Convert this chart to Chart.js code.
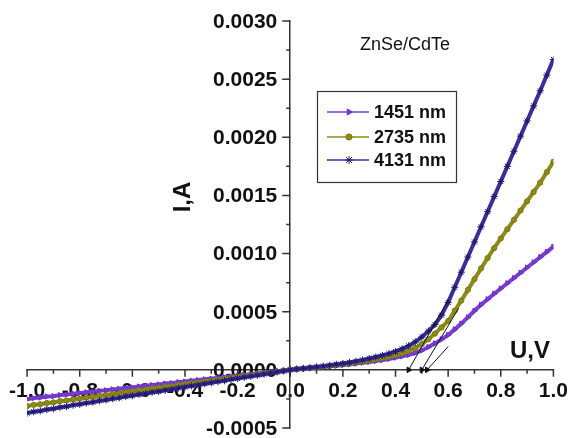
<!DOCTYPE html>
<html>
<head>
<meta charset="utf-8">
<script src="https://cdn.jsdelivr.net/npm/chart.js@4"></script>
<style>
  html, body { margin: 0; padding: 0; background: #fff; }
  #wrap { width: 577px; height: 438px; }
</style>
</head>
<body>
<div id="wrap"><canvas id="ivChart" width="577" height="438"></canvas></div>
<script>
// voltage, V
const voltage = [
  -1.000, -0.975, -0.950, -0.925, -0.900, -0.875, -0.850, -0.825, -0.800, -0.775,
  -0.750, -0.725, -0.700, -0.675, -0.650, -0.625, -0.600, -0.575, -0.550, -0.525,
  -0.500, -0.475, -0.450, -0.425, -0.400, -0.375, -0.350, -0.325, -0.300, -0.275,
  -0.250, -0.225, -0.200, -0.175, -0.150, -0.125, -0.100, -0.075, -0.050, -0.025,
   0.000,  0.025,  0.050,  0.075,  0.100,  0.125,  0.150,  0.175,  0.200,  0.225,
   0.250,  0.275,  0.300,  0.325,  0.350,  0.375,  0.400,  0.425,  0.450,  0.475,
   0.500,  0.525,  0.550,  0.575,  0.600,  0.625,  0.650,  0.675,  0.700,  0.725,
   0.750,  0.775,  0.800,  0.825,  0.850,  0.875,  0.900,  0.925,  0.950,  0.975,
   1.000
];

// current, A
const current1451 = [
  -0.000252, -0.000243, -0.000238, -0.000229, -0.000226, -0.000217, -0.000213, -0.000205, -0.000200, -0.000193,
  -0.000188, -0.000180, -0.000176, -0.000168, -0.000163, -0.000156, -0.000151, -0.000143, -0.000138, -0.000131,
  -0.000126, -0.000118, -0.000113, -0.000106, -0.000101, -0.000093, -0.000088, -0.000081, -0.000076, -0.000068,
  -0.000063, -0.000056, -0.000051, -0.000043, -0.000038, -0.000031, -0.000025, -0.000018, -0.000012, -0.000006,
   0.000000,  0.000005,  0.000010,  0.000015,  0.000020,  0.000025,  0.000030,  0.000035,  0.000041,  0.000047,
   0.000054,  0.000061,  0.000068,  0.000076,  0.000084,  0.000094,  0.000105,  0.000116,  0.000129,  0.000146,
   0.000167,  0.000196,  0.000228,  0.000262,  0.000300,  0.000348,  0.000398,  0.000452,  0.000508,  0.000560,
   0.000608,  0.000655,  0.000700,  0.000745,  0.000790,  0.000835,  0.000880,  0.000925,  0.000970,  0.001015,
   0.001060
];
const current2735 = [
  -0.000312, -0.000301, -0.000296, -0.000285, -0.000280, -0.000269, -0.000264, -0.000254, -0.000248, -0.000238,
  -0.000233, -0.000223, -0.000217, -0.000207, -0.000202, -0.000192, -0.000186, -0.000177, -0.000171, -0.000161,
  -0.000155, -0.000146, -0.000140, -0.000131, -0.000124, -0.000115, -0.000109, -0.000100, -0.000093, -0.000084,
  -0.000078, -0.000069, -0.000062, -0.000054, -0.000047, -0.000039, -0.000031, -0.000023, -0.000015, -0.000008,
   0.000000,  0.000006,  0.000011,  0.000017,  0.000022,  0.000028,  0.000034,  0.000041,  0.000048,  0.000055,
   0.000063,  0.000071,  0.000080,  0.000090,  0.000101,  0.000113,  0.000127,  0.000143,  0.000163,  0.000189,
   0.000222,  0.000263,  0.000312,  0.000365,  0.000420,  0.000508,  0.000596,  0.000688,  0.000780,  0.000872,
   0.000962,  0.001048,  0.001130,  0.001210,  0.001290,  0.001370,  0.001450,  0.001530,  0.001610,  0.001700,
   0.001790
];
const current4131 = [
  -0.000372, -0.000360, -0.000353, -0.000341, -0.000334, -0.000322, -0.000315, -0.000303, -0.000296, -0.000285,
  -0.000278, -0.000266, -0.000259, -0.000248, -0.000241, -0.000229, -0.000222, -0.000211, -0.000204, -0.000193,
  -0.000186, -0.000175, -0.000167, -0.000156, -0.000148, -0.000138, -0.000130, -0.000119, -0.000111, -0.000101,
  -0.000093, -0.000082, -0.000074, -0.000064, -0.000056, -0.000046, -0.000037, -0.000027, -0.000018, -0.000009,
   0.000000,  0.000007,  0.000013,  0.000019,  0.000025,  0.000032,  0.000039,  0.000047,  0.000055,  0.000064,
   0.000074,  0.000085,  0.000097,  0.000110,  0.000124,  0.000140,  0.000158,  0.000180,  0.000207,  0.000240,
   0.000282,  0.000333,  0.000390,  0.000470,  0.000580,  0.000710,  0.000840,  0.000970,  0.001100,  0.001230,
   0.001360,  0.001490,  0.001620,  0.001750,  0.001880,  0.002010,  0.002140,  0.002270,  0.002400,  0.002535,
   0.002670
];

const seriesNames = ['1451 nm', '2735 nm', '4131 nm'];

// short linear-fit lines with arrow at the foot on the U axis
const fitVoltage = [[0.45, 0.60], [0.50, 0.64], [0.52, 0.60]];
const fitCurrent = [[0, 0.00060], [0, 0.00053], [0, 0.00020]];

const xTicks = [-1.0, -0.8, -0.6, -0.4, -0.2, 0.0, 0.2, 0.4, 0.6, 0.8, 1.0];
const yTicks = [-0.0005, 0.0, 0.0005, 0.0010, 0.0015, 0.0020, 0.0025, 0.0030];

const colors = ['#7b3fd6', '#8c8c14', '#3a2e9e'];
const markerEdge = ['#6a2ec8', '#7a7a08', '#1f1870'];
const markers = [
  { pointStyle: 'triangle', rotation: 90, radius: 3 },
  { pointStyle: 'circle', rotation: 0, radius: 2.6 },
  { pointStyle: 'star', rotation: 0, radius: 3.6 }
];
const fontFamily = '"Liberation Sans", Arial, sans-serif';
const axisColor = '#333';

function toPoints(xs, ys) {
  return xs.map((v, i) => ({ x: v, y: ys[i] }));
}

const curves = [current1451, current2735, current4131].map((ys, i) => ({
  label: seriesNames[i],
  data: toPoints(voltage, ys),
  showLine: true,
  borderColor: colors[i],
  backgroundColor: colors[i],
  borderWidth: 4,
  pointStyle: markers[i].pointStyle,
  rotation: markers[i].rotation,
  pointRadius: markers[i].radius,
  pointBorderColor: markerEdge[i],
  pointBorderWidth: 1,
  order: 2 - i
}));

const fits = fitVoltage.map((xs, i) => ({
  label: 'fit' + i,
  data: toPoints(xs, fitCurrent[i]),
  showLine: true,
  borderColor: '#111',
  backgroundColor: '#111',
  borderWidth: 1,
  pointStyle: 'triangle',
  rotation: 210,
  pointRadius: [3.2, 0],
  order: -1
}));

// tick marks (major + one minor between), y tick labels left of the axis
const axisTicks = {
  id: 'axisTicks',
  beforeDatasetsDraw(chart) {
    const { ctx, scales: { x, y } } = chart;
    const ax = x.getPixelForValue(0);
    const ay = y.getPixelForValue(0);
    ctx.save();
    ctx.strokeStyle = axisColor;
    ctx.lineWidth = 1.5;
    ctx.beginPath();
    xTicks.forEach((v, i) => {
      const p = x.getPixelForValue(v);
      ctx.moveTo(p, ay); ctx.lineTo(p, ay + 7);
      if (i < xTicks.length - 1) {
        const m = x.getPixelForValue((v + xTicks[i + 1]) / 2);
        ctx.moveTo(m, ay); ctx.lineTo(m, ay + 4);
      }
    });
    yTicks.forEach((v, i) => {
      const p = y.getPixelForValue(v);
      ctx.moveTo(ax, p); ctx.lineTo(ax - 8, p);
      if (i < yTicks.length - 1) {
        const m = y.getPixelForValue((v + yTicks[i + 1]) / 2);
        ctx.moveTo(ax, m); ctx.lineTo(ax - 4, m);
      }
    });
    ctx.stroke();

    ctx.fillStyle = '#111';
    ctx.font = 'bold 21px ' + fontFamily;
    ctx.textAlign = 'right';
    ctx.textBaseline = 'middle';
    yTicks.forEach(v => {
      ctx.fillText(v.toFixed(4), ax - 13, y.getPixelForValue(v) + 1);
    });
    ctx.restore();
  }
};

// title, axis names and the boxed legend
const annotations = {
  id: 'annotations',
  afterDraw(chart) {
    const ctx = chart.ctx;
    ctx.save();
    ctx.fillStyle = '#111';
    ctx.textAlign = 'center';
    ctx.textBaseline = 'middle';
    ctx.font = '18px ' + fontFamily;
    ctx.fillText('ZnSe/CdTe', 405, 45);

    ctx.font = 'bold 24px ' + fontFamily;
    ctx.fillText('U,V', 530, 351);
    ctx.save();
    ctx.translate(183, 197);
    ctx.rotate(-Math.PI / 2);
    ctx.fillText('I,A', 0, 0);
    ctx.restore();

    // legend
    ctx.fillStyle = '#fff';
    ctx.fillRect(317, 91, 139, 91);
    ctx.strokeStyle = axisColor;
    ctx.lineWidth = 1.2;
    ctx.strokeRect(317.5, 91.5, 139, 91);
    const rows = [112, 137, 160];
    ctx.font = 'bold 18px ' + fontFamily;
    ctx.textAlign = 'left';
    seriesNames.forEach((name, i) => {
      const ry = rows[i];
      ctx.strokeStyle = colors[i];
      ctx.lineWidth = 1.5;
      ctx.beginPath();
      ctx.moveTo(327, ry); ctx.lineTo(369, ry);
      ctx.stroke();
      ctx.fillStyle = colors[i];
      ctx.strokeStyle = markerEdge[i];
      ctx.lineWidth = 1;
      if (Chart.helpers && Chart.helpers.drawPoint) {
        Chart.helpers.drawPoint(ctx, {
          pointStyle: markers[i].pointStyle,
          rotation: markers[i].rotation,
          radius: markers[i].radius + 0.5,
          borderWidth: 1
        }, 349, ry);
      }
      ctx.fillStyle = '#111';
      ctx.fillText(name, 374, ry + 1);
    });
    ctx.restore();
  }
};

new Chart(document.getElementById('ivChart'), {
  type: 'scatter',
  data: { datasets: curves.concat(fits) },
  options: {
    responsive: false,
    animation: false,
    devicePixelRatio: 1,
    layout: { padding: { left: 26, right: 17, top: 21, bottom: 10 } },
    plugins: { legend: { display: false }, tooltip: { enabled: false } },
    scales: {
      x: {
        type: 'linear',
        min: -1, max: 1,
        position: { y: 0 },
        afterBuildTicks: s => { s.ticks = xTicks.map(v => ({ value: v })); },
        grid: { drawOnChartArea: false, drawTicks: false },
        border: { color: axisColor, width: 1.5 },
        ticks: {
          padding: 9, color: '#111',
          font: { family: fontFamily, size: 21, weight: 'bold' },
          autoSkip: false, maxRotation: 0,
          callback: v => v.toFixed(1)
        }
      },
      y: {
        type: 'linear',
        min: -0.0005, max: 0.003,
        position: { x: 0 },
        afterBuildTicks: s => { s.ticks = yTicks.map(v => ({ value: v })); },
        grid: { drawOnChartArea: false, drawTicks: false },
        border: { color: axisColor, width: 1.5 },
        ticks: { display: false }
      }
    }
  },
  plugins: [axisTicks, annotations]
});
</script>
</body>
</html>
